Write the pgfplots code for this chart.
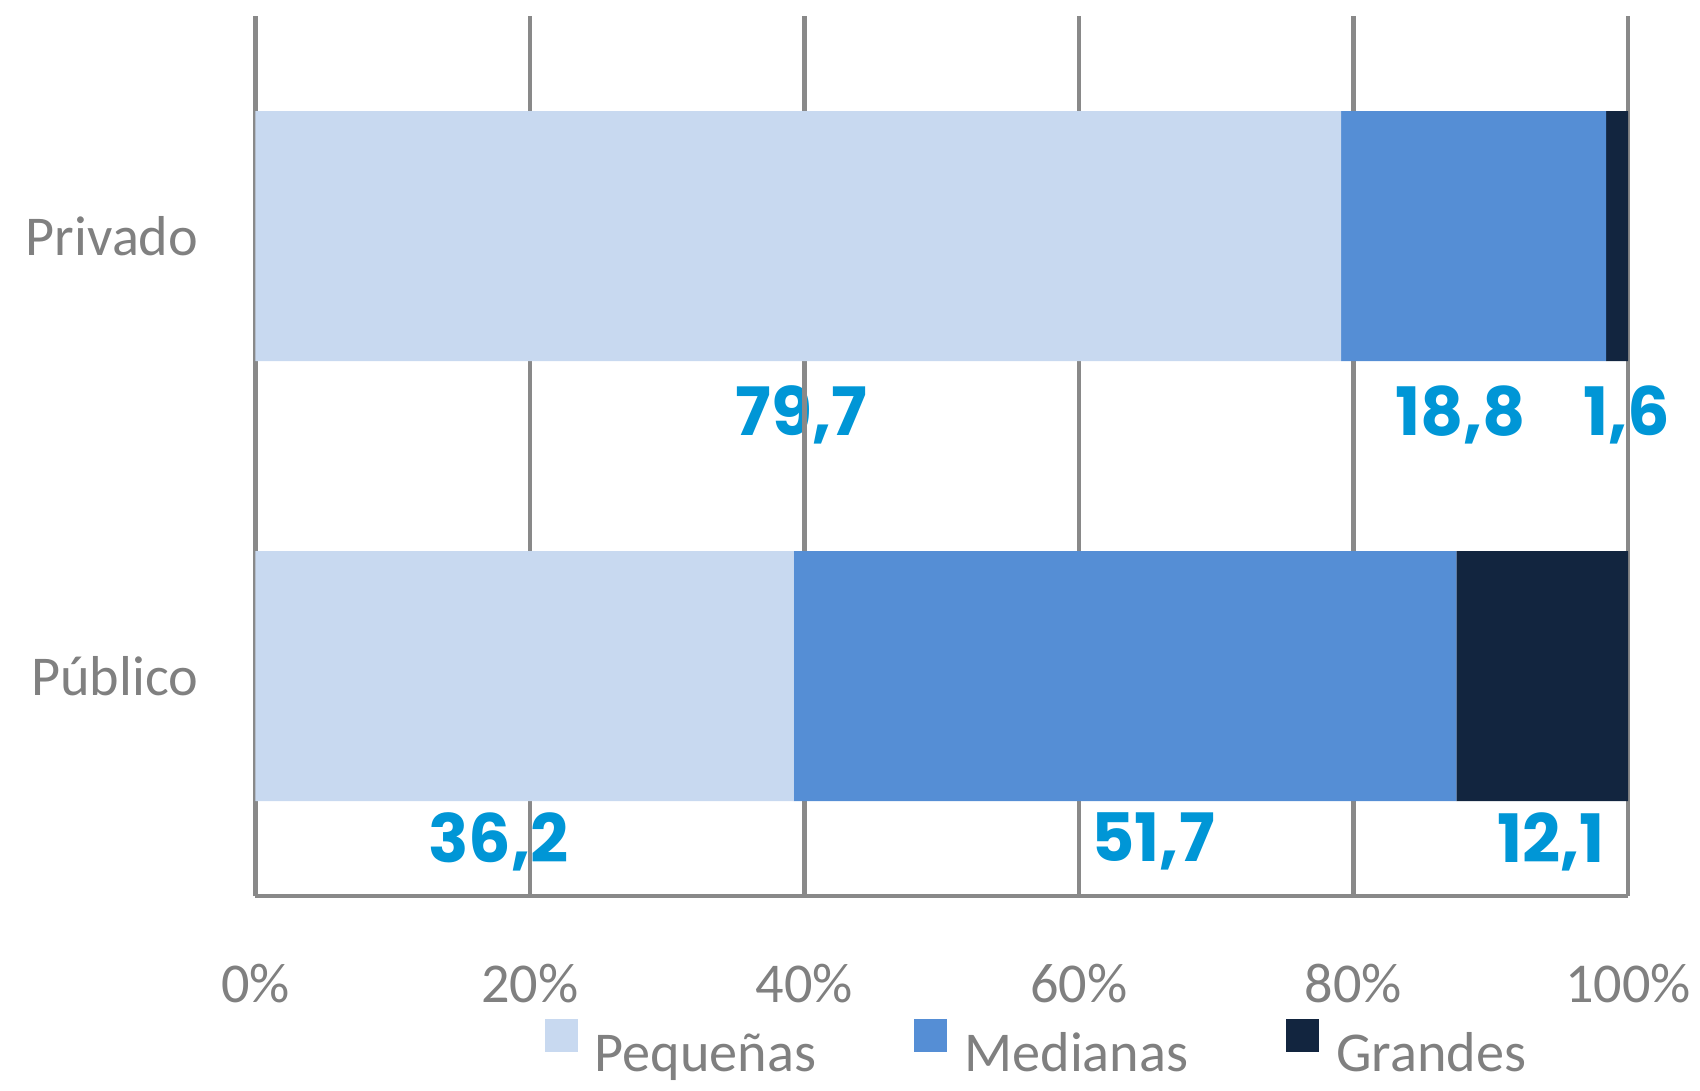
\documentclass[border=0pt]{standalone}
\usepackage{pgfplots}
\pgfplotsset{compat=1.18}
\usepackage{fontspec}
\setmainfont{Carlito}
\newfontfamily\numfont{Poppins}
\definecolor{peq}{HTML}{C8D9F0}
\definecolor{med}{HTML}{558ED5}
\definecolor{gra}{HTML}{12253F}
\definecolor{lab}{HTML}{0096D6}
\definecolor{txt}{HTML}{808080}
\definecolor{grd}{HTML}{898989}
\tikzset{lbl/.style={font=\fontsize{19}{20}\numfont\bfseries, text=lab}}
\pgfplotsset{base/.style={at={(0,0)}, anchor=south west,
  scale only axis, width=137.25mm, height=88mm,
  xmin=0, xmax=100, ymin=-0.5, ymax=1.5}}
\begin{document}
\begin{tikzpicture}
% labels (drawn first so the grid lines pass over them)
\begin{axis}[base, hide axis, clip=false]
\node[lbl] at (axis cs:39.8,0.593) {79,7};
\node[lbl] at (axis cs:87.8,0.593) {18,8};
\node[lbl] at (axis cs:99.9,0.593) {1,6};
\node[lbl] at (axis cs:17.7,-0.377) {36,2};
\node[lbl] at (axis cs:65.4,-0.377) {51,7};
\node[lbl] at (axis cs:94.4,-0.377) {12,1};
\end{axis}
\begin{axis}[base,
  xbar stacked, bar width=25mm,
  xtick={0,20,40,60,80,100},
  xticklabel={\pgfmathprintnumber{\tick}\%},
  ytick={0,1}, yticklabels={Público,Privado},
  major tick length=0pt,
  xmajorgrids, grid style={grd, line width=0.45mm},
  axis x line*=bottom, axis y line*=left,
  axis line style={grd, line width=0.45mm, -},
  tick label style={font=\fontsize{16}{19}\selectfont, text=txt},
  xticklabel style={yshift=-5.6mm},
  yticklabel style={xshift=-4.5mm},
  /pgf/number format/assume math mode=true,
  legend style={draw=none, fill=none, at={(0.571,-0.177)}, anchor=center,
    legend columns=3, font=\fontsize{16}{19}\selectfont, text=txt,
    /tikz/every even column/.append style={column sep=9.1mm}},
  legend image code/.code={\fill[#1] (0mm,0.28mm) rectangle (3.3mm,3.58mm);
    \path (4.3mm,1.93mm);},
]
\addplot[fill=peq, draw=none] coordinates {(39.2,0) (79.1,1)};
\addplot[fill=med, draw=none] coordinates {(48.3,0) (19.3,1)};
\addplot[fill=gra, draw=none] coordinates {(12.5,0) (1.6,1)};
\legend{Pequeñas, Medianas, Grandes}
\end{axis}
\pgfresetboundingbox
\path[use as bounding box] (-25.55mm,-19.4mm) rectangle (144.45mm,89.6mm);
\end{tikzpicture}
\end{document}
